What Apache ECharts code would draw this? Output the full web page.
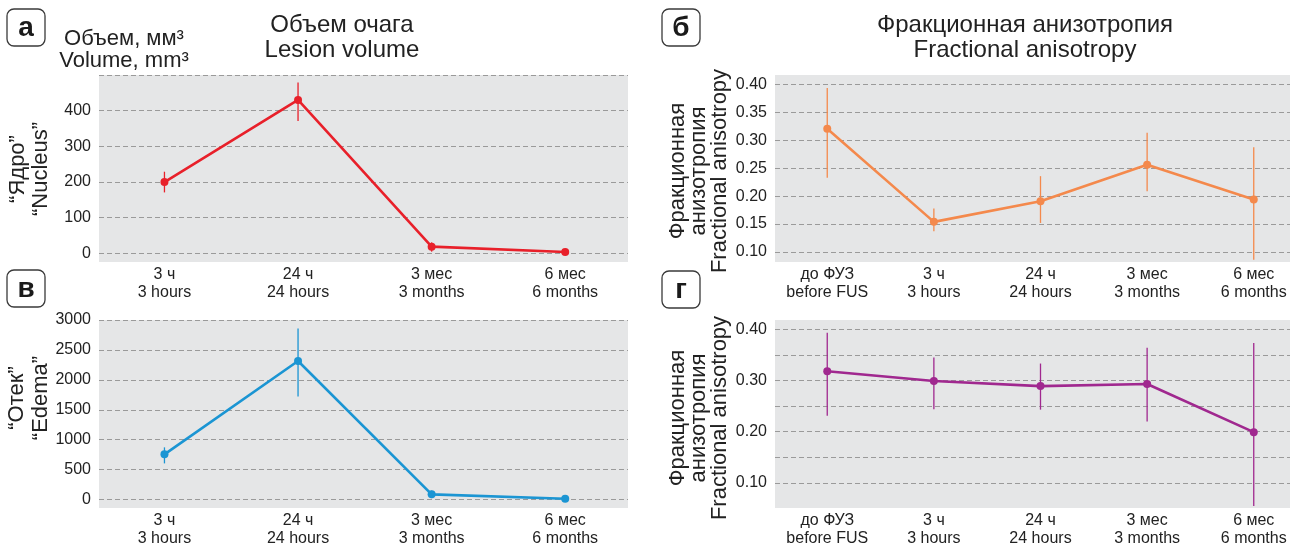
<!DOCTYPE html>
<html>
<head>
<meta charset="utf-8">
<script src="https://cdn.jsdelivr.net/npm/echarts@6/dist/echarts.min.js"></script>
<style>
html,body{margin:0;padding:0;background:#fff;}
#chart{width:1298px;height:550px;}
</style>
</head>
<body>
<div id="chart"></div>
<script>
// ---- data ----
const leftCatsRu = ['3 ч', '24 ч', '3 мес', '6 мес'];
const leftCatsEn = ['3 hours', '24 hours', '3 months', '6 months'];
const rightCatsRu = ['до ФУЗ', '3 ч', '24 ч', '3 мес', '6 мес'];
const rightCatsEn = ['before FUS', '3 hours', '24 hours', '3 months', '6 months'];

const nucleusMean = [200, 430, 19, 4];
const nucleusLow  = [171, 371, 5, -3];
const nucleusHigh = [229, 479, 31, 11];

const edemaMean = [756, 2315, 88, 15];
const edemaLow  = [605, 1723, 25, -20];
const edemaHigh = [873, 2860, 150, 55];

const faTopMean = [0.321, 0.154, 0.191, 0.2565, 0.194];
const faTopLow  = [0.233, 0.137, 0.152, 0.209, 0.086];
const faTopHigh = [0.394, 0.178, 0.236, 0.314, 0.288];

const faBotMean = [0.318, 0.299, 0.289, 0.293, 0.199];
const faBotLow  = [0.231, 0.244, 0.243, 0.220, 0.055];
const faBotHigh = [0.393, 0.345, 0.333, 0.364, 0.373];

const leftTicks = { nucleus: [0, 100, 200, 300, 400], edema: [0, 500, 1000, 1500, 2000, 2500, 3000] };
const faTopTicks = [0.10, 0.15, 0.20, 0.25, 0.30, 0.35, 0.40];
const faBotTicks = [0.10, 0.20, 0.30, 0.40];

// ---- styles ----
const FONT = "'Liberation Sans', Arial, Helvetica, sans-serif";
const TXT = '#222';
const BG = '#e5e6e7';
const GRIDLINE = { show: true, showMinLine: false, showMaxLine: true, lineStyle: { color: '#9a9a9a', type: [5, 3], width: 1 } };

function near(v, arr) { return arr.some(t => Math.abs(t - v) < 1e-6); }

function xAxis(gi, ru, en, min, max) {
  return {
    type: 'value', gridIndex: gi, min: min, max: max, minInterval: 1, maxInterval: 1,
    axisLine: { show: false }, axisTick: { show: false }, splitLine: { show: false },
    axisLabel: {
      margin: 4, color: TXT, fontFamily: FONT, fontSize: 16, lineHeight: 18, align: 'center',
      formatter: v => (Math.abs(v - Math.round(v)) < 1e-6 && ru[Math.round(v)] !== undefined) ? ru[Math.round(v)] + '\n' + en[Math.round(v)] : ''
    }
  };
}
function yAxis(gi, min, max, step, ticks, decimals, showMax) {
  return {
    type: 'value', gridIndex: gi, min: min, max: max, minInterval: step, maxInterval: step, splitNumber: 6,
    axisLine: { show: false }, axisTick: { show: false },
    splitLine: Object.assign({}, GRIDLINE, { showMaxLine: showMax }),
    axisLabel: {
      margin: 8, color: TXT, fontFamily: FONT, fontSize: 16,
      formatter: v => near(v, ticks) ? (decimals ? v.toFixed(decimals) : String(Math.round(v))) : ''
    }
  };
}
function lineSeries(gi, mean, color) {
  return {
    type: 'line', xAxisIndex: gi, yAxisIndex: gi, z: 5,
    data: mean.map((v, i) => [i, v]),
    symbol: 'circle', symbolSize: 8, showSymbol: true,
    lineStyle: { color: color, width: 2.6 }, itemStyle: { color: color },
    silent: true, animation: false
  };
}
function errSeries(gi, low, high, color) {
  return {
    type: 'custom', xAxisIndex: gi, yAxisIndex: gi, z: 4,
    data: low.map((v, i) => [i, v, high[i]]),
    encode: { x: 0, y: [1, 2] },
    renderItem: (params, api) => {
      const x = api.value(0);
      const a = api.coord([x, api.value(1)]);
      const b = api.coord([x, api.value(2)]);
      return { type: 'line', shape: { x1: a[0], y1: a[1], x2: b[0], y2: b[1] }, style: { stroke: color, lineWidth: 1.3 } };
    },
    silent: true, animation: false
  };
}
function badge(x, y, letter) {
  return [
    { type: 'rect', shape: { x: x, y: y, width: 38, height: 37, r: 7 }, style: { fill: '#fff', stroke: '#3a3a3a', lineWidth: 1.3 } },
    { type: 'text', x: x + 19, y: y + 19, style: { text: letter, fontFamily: FONT, fontSize: 28, fontWeight: 'bold', fill: '#1a1a1a', align: 'center', verticalAlign: 'middle' } }
  ];
}
function txt(x, y, text, size, opts) {
  return Object.assign({ type: 'text', x: x, y: y, style: { text: text, fontFamily: FONT, fontSize: size, fill: TXT, align: 'center', verticalAlign: 'middle', lineHeight: (opts && opts.lh) || size + 2 } }, opts && opts.rot ? { rotation: opts.rot } : {});
}

const RED = '#e8202a', BLUE = '#1b95d3', ORANGE = '#f4894c', PURPLE = '#a0288f';

const chart = echarts.init(document.getElementById('chart'), null, { renderer: 'canvas' });
chart.setOption({
  animation: false,
  backgroundColor: '#fff',
  grid: [
    { left: 99, top: 75, width: 529, height: 187, show: true, backgroundColor: BG, borderWidth: 0 },
    { left: 99, top: 320, width: 529, height: 188, show: true, backgroundColor: BG, borderWidth: 0 },
    { left: 775, top: 75, width: 515, height: 187, show: true, backgroundColor: BG, borderWidth: 0 },
    { left: 775, top: 320, width: 515, height: 188, show: true, backgroundColor: BG, borderWidth: 0 }
  ],
  xAxis: [
    xAxis(0, leftCatsRu, leftCatsEn, -0.49, 3.47),
    xAxis(1, leftCatsRu, leftCatsEn, -0.49, 3.47),
    xAxis(2, rightCatsRu, rightCatsEn, -0.49, 4.34),
    xAxis(3, rightCatsRu, rightCatsEn, -0.49, 4.34)
  ],
  yAxis: [
    yAxis(0, -24, 500, 100, leftTicks.nucleus, 0, true),
    yAxis(1, -140, 3000, 500, leftTicks.edema, 0, true),
    yAxis(2, 0.082, 0.4174, 0.05, faTopTicks, 2, false),
    yAxis(3, 0.051, 0.418, 0.05, faBotTicks, 2, false)
  ],
  series: [
    errSeries(0, nucleusLow, nucleusHigh, RED), lineSeries(0, nucleusMean, RED),
    errSeries(1, edemaLow, edemaHigh, BLUE), lineSeries(1, edemaMean, BLUE),
    errSeries(2, faTopLow, faTopHigh, ORANGE), lineSeries(2, faTopMean, ORANGE),
    errSeries(3, faBotLow, faBotHigh, PURPLE), lineSeries(3, faBotMean, PURPLE)
  ],
  graphic: [].concat(
    badge(7, 9, 'а'), badge(7, 270, 'в'), badge(662, 9, 'б'), badge(662, 271, 'г'),
    [
      txt(342, 38, 'Объем очага\nLesion volume', 24, { lh: 25 }),
      txt(1025, 38, 'Фракционная анизотропия\nFractional anisotropy', 24, { lh: 25 }),
      txt(124, 50, 'Объем, мм³\nVolume, mm³', 22, { lh: 22 }),
      txt(29, 169, '“Ядро”\n“Nucleus”', 22, { lh: 23, rot: Math.PI / 2 }),
      txt(29, 398, '“Отек”\n“Edema”', 22, { lh: 24, rot: Math.PI / 2 }),
      txt(699, 171, 'Фракционная\nанизотропия\nFractional anisotropy', 22, { lh: 21, rot: Math.PI / 2 }),
      txt(699, 418, 'Фракционная\nанизотропия\nFractional anisotropy', 22, { lh: 21, rot: Math.PI / 2 })
    ]
  )
});
</script>
</body>
</html>
